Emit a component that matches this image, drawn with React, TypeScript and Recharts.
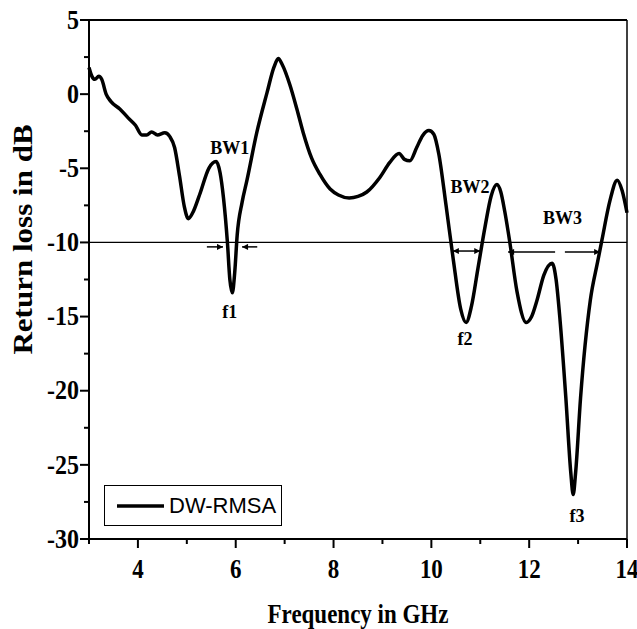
import { LineChart, Line, XAxis, YAxis, ReferenceLine, ReferenceDot, Legend } from "recharts";

const freq = [
  3.0, 3.06, 3.12, 3.2, 3.26, 3.35, 3.45, 3.63, 3.8, 3.95, 4.08, 4.18, 4.28, 4.4, 4.55, 4.65, 4.75, 4.85, 4.95, 5.03,
  5.12, 5.27, 5.45, 5.6, 5.68, 5.75, 5.83, 5.88, 5.93, 5.98, 6.03, 6.13, 6.23, 6.43, 6.64, 6.78, 6.87, 6.95, 7.11, 7.25,
  7.38, 7.55, 7.72, 7.93, 8.1, 8.32, 8.5, 8.68, 8.95, 9.15, 9.34, 9.45, 9.56, 9.7, 9.82, 9.95, 10.05, 10.15, 10.3, 10.45,
  10.6, 10.71, 10.82, 10.95, 11.1, 11.22, 11.34, 11.42, 11.5, 11.6, 11.75, 11.94, 12.05, 12.16, 12.3, 12.47, 12.55, 12.63, 12.75, 12.85,
  12.9, 12.95, 13.05, 13.25, 13.4, 13.49, 13.65, 13.8, 13.9, 14.0,
];
const returnLoss = [
  1.8, 1.2, 1.0, 1.2, 1.0, 0.0, -0.5, -1.0, -1.6, -2.1, -2.75, -2.75, -2.55, -2.75, -2.6, -2.85, -3.6, -5.5, -7.6, -8.4,
  -8.0, -6.7, -5.0, -4.55, -5.3, -7.0, -10.0, -12.5, -13.4, -12.0, -9.5, -7.3, -5.8, -2.6, 0.1, 1.8, 2.4, 2.0, 0.6, -1.0,
  -2.6, -4.3, -5.4, -6.4, -6.8, -7.0, -6.9, -6.6, -5.6, -4.6, -4.0, -4.4, -4.5, -3.6, -2.8, -2.45, -2.7, -4.0, -7.5, -11.2,
  -14.5, -15.4, -14.3, -11.8, -8.9, -6.9, -6.1, -6.6, -7.9, -9.9, -13.3, -15.4, -15.0, -13.9, -12.2, -11.4, -12.5, -15.2, -20.5, -25.5,
  -27.0, -25.5, -20.5, -13.9, -11.3, -9.8, -7.2, -5.8, -6.5, -8.0,
];

const xTicks = [3, 4, 5, 6, 7, 8, 9, 10, 11, 12, 13, 14];
const xLabels = [4, 6, 8, 10, 12, 14];
const yTicks = [5, 2.5, 0, -2.5, -5, -7.5, -10, -12.5, -15, -17.5, -20, -22.5, -25, -27.5, -30];
const yLabels = [5, 0, -5, -10, -15, -20, -25, -30];

// annotation texts and their anchors (data units)
const noteText = ["BW1", "BW2", "BW3", "f1", "f2", "f3"];
const noteFreq = [5.88, 10.79, 12.68, 5.88, 10.69, 12.98];
const noteLevel = [-3.6, -6.23, -8.32, -14.7, -16.5, -28.4];

// bandwidth arrows: [from, to] in GHz at a dB level, heads at start/end
const arrowFrom = [5.41, 6.44, 10.44, 12.53, 12.73];
const arrowTo = [5.74, 6.13, 11.0, 11.57, 13.45];
const arrowLevel = [-10.3, -10.3, -10.58, -10.64, -10.64];
const arrowBoth = [false, false, true, false, false];

const data = freq.map((f, i) => ({ freq: f, rl: returnLoss[i] }));

const serif = '"Liberation Serif", "Times New Roman", serif';

// the source figure is slightly stretched vertically, so text gets a y-scale
const Stretched = ({ x, y, sy = 1.15, children, ...rest }: any) => (
  <text transform={`translate(${x},${y}) scale(1,${sy})`} fontFamily={serif} fontWeight="bold" fill="#000" {...rest}>
    {children}
  </text>
);

const XTick = (props: any) => {
  const { x, y, payload } = props;
  const major = xLabels.includes(payload.value);
  return (
    <g>
      <line x1={x} y1={y} x2={x} y2={y + (major ? 9 : 5)} stroke="#000" strokeWidth={2} />
      {major && (
        <Stretched x={x} y={y + 39} textAnchor="middle" fontSize={23}>
          {payload.value}
        </Stretched>
      )}
    </g>
  );
};

const YTick = (props: any) => {
  const { x, y, payload } = props;
  const major = yLabels.includes(payload.value);
  return (
    <g>
      <line x1={x} y1={y} x2={x - (major ? 9 : 5)} y2={y} stroke="#000" strokeWidth={2} />
      {major && (
        <Stretched x={x - 10} y={y} sy={1.1} dy="0.33em" textAnchor="end" fontSize={24}>
          {payload.value}
        </Stretched>
      )}
    </g>
  );
};

const XTitle = (props: any) => {
  const vb = props.viewBox;
  return (
    <Stretched x={vb.x + vb.width / 2} y={vb.y + 84} textAnchor="middle" fontSize={23}>
      Frequency in GHz
    </Stretched>
  );
};

const YTitle = (props: any) => {
  const vb = props.viewBox;
  const cx = vb.x + 23;
  const cy = vb.y + vb.height / 2 - 40;
  return (
    <text
      transform={`translate(${cx},${cy}) scale(1,1.15) rotate(-90)`}
      textAnchor="middle"
      dy="0.35em"
      fontFamily={serif}
      fontWeight="bold"
      fontSize={27}
      fill="#000"
    >
      Return loss in dB
    </text>
  );
};

const arrowShape = (both: boolean) => (props: any) => (
  <line
    x1={props.x1}
    y1={props.y1}
    x2={props.x2}
    y2={props.y2}
    stroke="#000"
    strokeWidth={1.5}
    markerEnd="url(#ahead)"
    markerStart={both ? "url(#ahead)" : undefined}
  />
);

const LegendBox = () => (
  <div
    style={{
      width: 178,
      height: 41,
      border: "1px solid #000",
      boxSizing: "border-box",
      background: "#fff",
      display: "flex",
      alignItems: "center",
    }}
  >
    <svg width={64} height={10}>
      <line x1={12} y1={5} x2={59} y2={5} stroke="#000" strokeWidth={3.5} />
    </svg>
    <span style={{ fontFamily: '"Liberation Sans", Arial, sans-serif', fontSize: 22, color: "#000" }}>DW-RMSA</span>
  </div>
);

export default function App() {
  return (
    <div style={{ position: "absolute", left: 0, top: 0, background: "#fff" }}>
      <LineChart width={637} height={629} data={data} margin={{ top: 20, right: 10, bottom: 60, left: 0 }}>
        <defs>
          <marker id="ahead" viewBox="0 0 10 10" refX="10" refY="5" markerWidth="7" markerHeight="6" markerUnits="userSpaceOnUse" orient="auto-start-reverse">
            <path d="M0,0 L10,5 L0,10 z" fill="#000" />
          </marker>
        </defs>
        <XAxis
          dataKey="freq"
          type="number"
          domain={[3, 14]}
          ticks={xTicks}
          interval={0}
          height={30}
          tickSize={0}
          tickMargin={0}
          tickLine={false}
          tick={XTick}
          axisLine={{ stroke: "#000", strokeWidth: 2 }}
          label={{ content: XTitle }}
        />
        <YAxis
          type="number"
          domain={[-30, 5]}
          ticks={yTicks}
          interval={0}
          width={89}
          tickSize={0}
          tickMargin={0}
          tickLine={false}
          tick={YTick}
          axisLine={{ stroke: "#000", strokeWidth: 2 }}
          label={{ content: YTitle }}
        />
        <ReferenceLine y={5} stroke="#000" strokeWidth={2} />
        <ReferenceLine x={14} stroke="#000" strokeWidth={1.5} />
        <ReferenceLine y={-10} stroke="#000" strokeWidth={1.2} />
        {arrowFrom.map((a, i) => (
          <ReferenceLine
            key={"ar" + i}
            segment={[
              { x: a, y: arrowLevel[i] },
              { x: arrowTo[i], y: arrowLevel[i] },
            ]}
            shape={arrowShape(arrowBoth[i])}
          />
        ))}
        {noteText.map((t, i) => (
          <ReferenceDot
            key={"nt" + i}
            x={noteFreq[i]}
            y={noteLevel[i]}
            r={0}
            shape={(p: any) => (
              <text x={p.cx} y={p.cy} dy="0.35em" textAnchor="middle" fontFamily={serif} fontWeight="bold" fontSize={18} fill="#000">
                {t}
              </text>
            )}
          />
        ))}
        <Line
          type="monotone"
          dataKey="rl"
          name="DW-RMSA"
          stroke="#000"
          strokeWidth={3.5}
          dot={false}
          activeDot={false}
          isAnimationActive={false}
        />
        <Legend
          layout="horizontal"
          verticalAlign="middle"
          align="center"
          wrapperStyle={{ left: 104, top: 485, width: 178 }}
          content={LegendBox}
        />
      </LineChart>
    </div>
  );
}
